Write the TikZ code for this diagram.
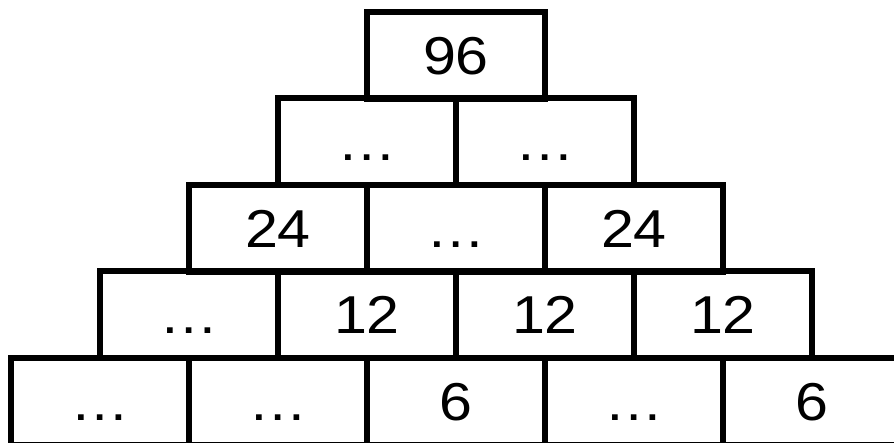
\documentclass[tikz,border=0pt]{standalone}
\usepackage{fontspec}
\setmainfont{Liberation Sans}[FakeStretch=1.11]
\tikzset{
  brick/.style={draw, line width=4.5pt, minimum width=133.5pt, minimum height=64.9pt,
    inner sep=0pt, text height=28.6pt, text depth=0pt,
    font=\fontsize{40}{46}\selectfont}
}
\begin{document}
\begin{tikzpicture}[x=0.75pt,y=0.75pt,yscale=-1,xscale=1]
\clip (0,0) rectangle (894,443);
% top
\node[brick] (t1) at (456,55.25) {96};
% second row
\node[brick] (s1) at (367,141.75) {…};
\node[brick] (s2) at (545,141.75) {…};
% third row
\node[brick] (m1) at (278,228.25) {24};
\node[brick] (m2) at (456,228.25) {…};
\node[brick] (m3) at (634,228.25) {24};
% fourth row
\node[brick] (f1) at (189,314.75) {…};
\node[brick] (f2) at (367,314.75) {12};
\node[brick] (f3) at (545,314.75) {12};
\node[brick] (f4) at (723,314.75) {12};
% base
\node[brick] (b1) at (100,401.25) {…};
\node[brick] (b2) at (278,401.25) {…};
\node[brick] (b3) at (456,401.25) {6};
\node[brick] (b4) at (634,401.25) {…};
\node[brick] (b5) at (812,401.25) {6};
\end{tikzpicture}
\end{document}
